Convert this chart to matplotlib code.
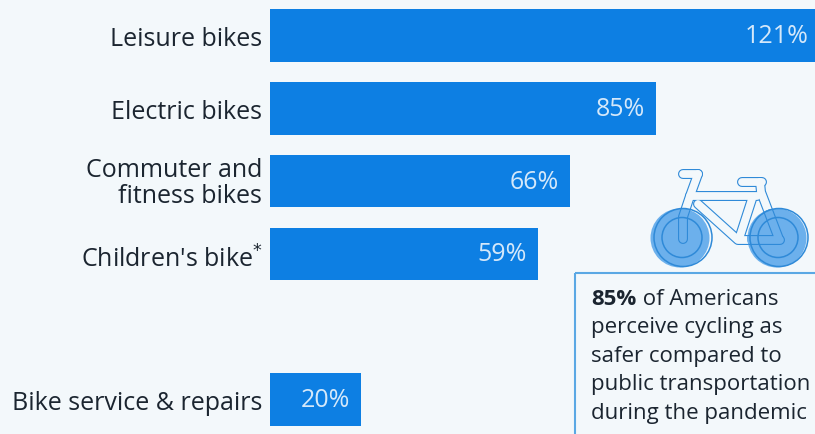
import matplotlib
matplotlib.use('Agg')
import matplotlib.pyplot as plt
from matplotlib.patches import Circle, Rectangle
from matplotlib.transforms import ScaledTranslation

plt.rcParams['font.family'] = ['Open Sans', 'DejaVu Sans']

# bar data, rows are positions from the top (row 4 stays empty)
categories = ['Leisure bikes', 'Electric bikes', 'Commuter and\nfitness bikes',
              "Children's bike$^{*}$", 'Bike service & repairs']
values = [121, 85, 66, 59, 20]
rows = [0, 1, 2, 3, 5]

note_bold = '85%'
note_first = ' of Americans'
note_lines = ['perceive cycling as', 'safer compared to',
              'public transportation', 'during the pandemic']

bg = '#f3f8fb'
bar_col = '#0d7fe3'
text_col = '#1b2530'
light_blue = '#6cb0ec'
line_blue = '#2f8ad8'

W, H = 815, 435
fig = plt.figure(figsize=(W/100, H/100), dpi=100, facecolor=bg)

# bars
# ---

ax = fig.add_axes([270/W, 0, 545/W, 1])
ax.set_facecolor('none')
ax.barh(rows, values, height=0.72, color=bar_col)
ax.set_xlim(0, 545/4.54)
ax.set_ylim((435-36.5)/72.8, -36.5/72.8)
ax.set_yticks(rows)
ax.set_yticklabels(categories, fontsize=18, color=text_col, linespacing=1.07)
ax.tick_params(axis='y', length=0, pad=5.5)
ax.set_xticks([])
for s in ax.spines.values():
    s.set_visible(False)

# small vertical nudges per row label, in pixels (the superscript shifts its label up)
for lab, dy in zip(ax.get_yticklabels(), [0.5, 0, 2, -2.5, -0.5]):
    lab.set_transform(lab.get_transform() + ScaledTranslation(0, dy/100, fig.dpi_scale_trans))

for r, v in zip(rows, values):
    ax.annotate(str(v) + '%', xy=(v, r), xytext=(-8, 0), textcoords='offset points',
                ha='right', va='center', fontsize=18, color='#d4e8fa',
                annotation_clip=False)

# overlay in pixel coordinates for the bike and the note
# ---

ov = fig.add_axes([0, 0, 1, 1])
ov.set_xlim(0, W)
ov.set_ylim(H, 0)
ov.axis('off')
ov.patch.set_alpha(0)

frame_paths = [
    ([683, 698], [175, 175]),
    ([698, 690, 683, 683], [175, 197, 218, 240]),
    ([690, 757], [197, 197]),
    ([742, 762], [183, 183]),
    ([760, 761, 779], [183, 193, 240]),
    ([698, 738, 780], [205, 241, 241]),
    ([752, 740], [200, 237]),
]

def draw_frame(inner_col, zorder, clip=None):
    # wide blue stroke with a narrower one on top leaves a double outline
    for col, lw, z in [(line_blue, 7.2, zorder), (inner_col, 5.6, zorder + 1)]:
        for xs, ys in frame_paths:
            ln, = ov.plot(xs, ys, color=col, lw=lw, solid_capstyle='round',
                          solid_joinstyle='round', zorder=z)
            if clip is not None:
                ln.set_clip_path(clip)

draw_frame(bg, 2)

# wheels, the frame shows through inside them
for cx in [680, 777]:
    wheel = Circle((cx, 239), 29.5, fc=light_blue, ec='none', zorder=4)
    ov.add_patch(wheel)
    draw_frame(light_blue, 5, clip=wheel)
for cx in [683, 779]:
    ov.add_patch(Circle((cx, 238.5), 29, fc='none', ec=line_blue, lw=1.1, zorder=7))
    ov.add_patch(Circle((cx - 1, 238.5), 20, fc='none', ec=line_blue, lw=1.1, zorder=7))

# note box, runs past the right edge
ov.add_patch(Rectangle((574.5, 273.5), 260, 200, fc='none', ec='#5aa8e4', lw=1.5,
                       zorder=2))

t = ov.text(591, 305, note_bold, fontsize=16, fontweight='bold', color=text_col,
            va='baseline')
fig.canvas.draw()
ext = t.get_window_extent(fig.canvas.get_renderer())
ov.text(ext.x1 + 0.5, 305, note_first, fontsize=16, color=text_col, va='baseline')
for i, line in enumerate(note_lines):
    ov.text(591, 333.5 + 28.5*i, line, fontsize=16, color=text_col, va='baseline')

fig.savefig('out.png', dpi=100, facecolor=bg)
plt.close()
